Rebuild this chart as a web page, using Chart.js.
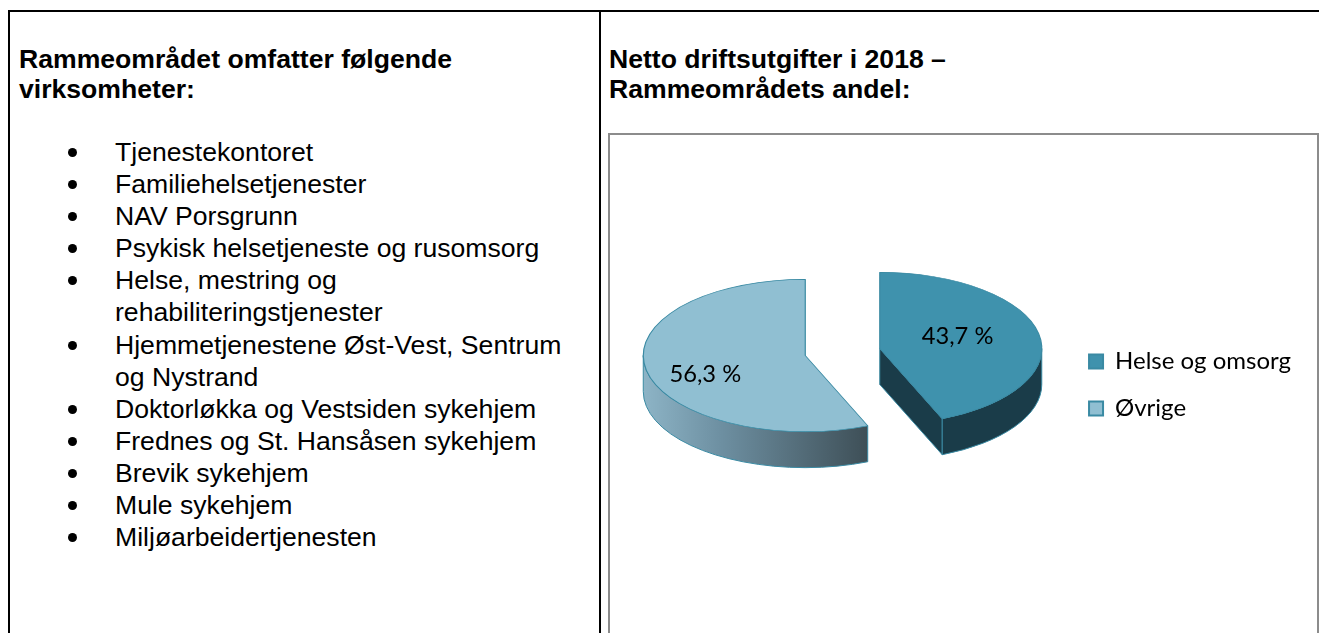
<!DOCTYPE html>
<html><head><meta charset="utf-8">
<script src="https://cdn.jsdelivr.net/npm/chart.js@4"></script>
<style>
html,body{margin:0;padding:0;background:#fff;width:1319px;height:633px;overflow:hidden;position:relative}
.b{position:absolute;background:#000}
#box{position:absolute;left:608px;top:133px;width:707px;height:520px;border:2px solid #8c8c8c;box-sizing:content-box}
.t{position:absolute;font:bold 26.6px/30px "Liberation Sans",Arial,sans-serif;color:#000;white-space:nowrap}
#list{position:absolute;left:115px;top:136px;margin:0;padding:0;list-style:none;font:26.6px/32.1px "Liberation Sans",Arial,sans-serif;color:#000;white-space:nowrap}
#list li{position:relative}
#list li.d:before{content:"";position:absolute;left:-47px;top:12px;width:9px;height:9px;border-radius:50%;background:#000}
#c{position:absolute;left:619px;top:133px}
</style></head><body>
<div class="b" style="left:8px;top:10px;width:1311px;height:2px"></div>
<div class="b" style="left:8px;top:10px;width:2px;height:623px"></div>
<div class="b" style="left:599px;top:10px;width:2px;height:623px"></div>
<div id="box"></div>
<div class="t" id="t1" style="left:19px;top:44px"></div>
<div class="t" id="t2" style="left:609px;top:44px"></div>
<ul id="list"></ul>
<canvas id="c" width="682" height="504" style="width:682px;height:504px"></canvas>
<script>
const heading1 = ["Rammeområdet omfatter følgende", "virksomheter:"];
const heading2 = ["Netto driftsutgifter i 2018 –", "Rammeområdets andel:"];
const services = [
 ["Tjenestekontoret"],["Familiehelsetjenester"],["NAV Porsgrunn"],
 ["Psykisk helsetjeneste og rusomsorg"],["Helse, mestring og","rehabiliteringstjenester"],
 ["Hjemmetjenestene Øst-Vest, Sentrum","og Nystrand"],["Doktorløkka og Vestsiden sykehjem"],
 ["Frednes og St. Hansåsen sykehjem"],["Brevik sykehjem"],["Mule sykehjem"],["Miljøarbeidertjenesten"]];
const categories = ["Helse og omsorg", "Øvrige"];
const values = [43.7, 56.3];
const topColors = ["#3f92ad", "#90bfd2"];
const edgeColor = "#3a8aa3";
const labelFracs = [0.505, 0.667];
const labelTurn = [-6.7, -11];

t1.innerHTML = heading1.join("<br>");
t2.innerHTML = heading2.join("<br>");
services.forEach(s => s.forEach((line,i) => {
  const li = document.createElement("li");
  li.textContent = line;
  if(i===0) li.className = "d";
  document.getElementById("list").appendChild(li);
}));

const SQUASH = 0.47, DEPTH = 36, PIE_Y = 352 - 133, EXPLODE = 38;
function arcGeom(a){
  const p = a.getProps(["x","y","startAngle","endAngle","outerRadius"], true);
  const mid = (p.startAngle+p.endAngle)/2;
  return {...p, R:p.outerRadius, mid, dx:Math.cos(mid)*EXPLODE, dy:Math.sin(mid)*EXPLODE};
}
const pie3d = {
  id:"pie3d",
  beforeDatasetDraw(chart){
    const ctx = chart.ctx, cy = (chart.chartArea.top+chart.chartArea.bottom)/2;
    const arcs = chart.getDatasetMeta(0).data;
    arcs.forEach((a,i)=>{
      const g = arcGeom(a), R = g.R, cx = g.x+g.dx, ay = PIE_Y+(g.y-cy+g.dy)*SQUASH, ry = R*SQUASH;
      const s = Math.max(g.startAngle,0), e = Math.min(g.endAngle,Math.PI);
      ctx.save();
      ctx.strokeStyle = edgeColor; ctx.lineWidth = 1;
      if(i===0){
        const ex = cx+R*Math.cos(g.endAngle), ey = ay+ry*Math.sin(g.endAngle);
        ctx.beginPath(); ctx.moveTo(cx,ay); ctx.lineTo(ex,ey); ctx.lineTo(ex,ey+DEPTH); ctx.lineTo(cx,ay+DEPTH); ctx.closePath();
        ctx.fillStyle = "#1a3c49"; ctx.fill(); ctx.stroke();
      }
      ctx.beginPath();
      ctx.ellipse(cx,ay,R,ry,0,s,e);
      ctx.ellipse(cx,ay+DEPTH,R,ry,0,e,s,true);
      ctx.closePath();
      if(i===0){ ctx.fillStyle = "#1a3c49"; }
      else {
        const gr = ctx.createLinearGradient(cx-R,0,cx+R*Math.cos(s),0);
        gr.addColorStop(0,"#8db4c6"); gr.addColorStop(0.35,"#6d8fa1"); gr.addColorStop(1,"#3e4f57");
        ctx.fillStyle = gr;
      }
      ctx.fill(); ctx.stroke();
      ctx.restore();
      // top face: the library's own arc element, moved and flattened
      ctx.save();
      ctx.translate(g.dx, PIE_Y+g.dy*SQUASH); ctx.scale(1,SQUASH); ctx.translate(0,-cy);
      a.draw(ctx, chart.chartArea);
      ctx.restore();
    });
    ctx.save();
    ctx.font = '23.7px Lato, sans-serif'; ctx.fillStyle="#000"; ctx.textAlign="center"; ctx.textBaseline="middle";
    arcs.forEach((a,i)=>{
      const g = arcGeom(a), ang = g.mid + labelTurn[i]*Math.PI/180, r = g.R*labelFracs[i];
      const txt = values[i].toFixed(1).replace(".",",")+" %";
      ctx.fillText(txt, g.x+g.dx+Math.cos(ang)*r, PIE_Y+(g.y-cy+g.dy)*SQUASH+Math.sin(ang)*r*SQUASH);
    });
    ctx.restore();
    return false;
  }
};
new Chart(document.getElementById("c"),{
  type:"pie",
  data:{labels:categories,datasets:[{data:values,backgroundColor:topColors,borderColor:edgeColor,borderWidth:1.2}]},
  options:{
    responsive:false,animation:false,radius:162,
    layout:{padding:0},
    plugins:{
      tooltip:{enabled:false},
      legend:{position:"right",labels:{
        boxWidth:14,boxHeight:14,padding:23,color:"#000",font:{family:"Lato",size:24},
        generateLabels(ch){return categories.map((c,i)=>({text:c,fillStyle:topColors[i],strokeStyle:edgeColor,lineWidth:2,index:i}));}
      }}
    }
  },
  plugins:[pie3d]
});
</script></body></html>
